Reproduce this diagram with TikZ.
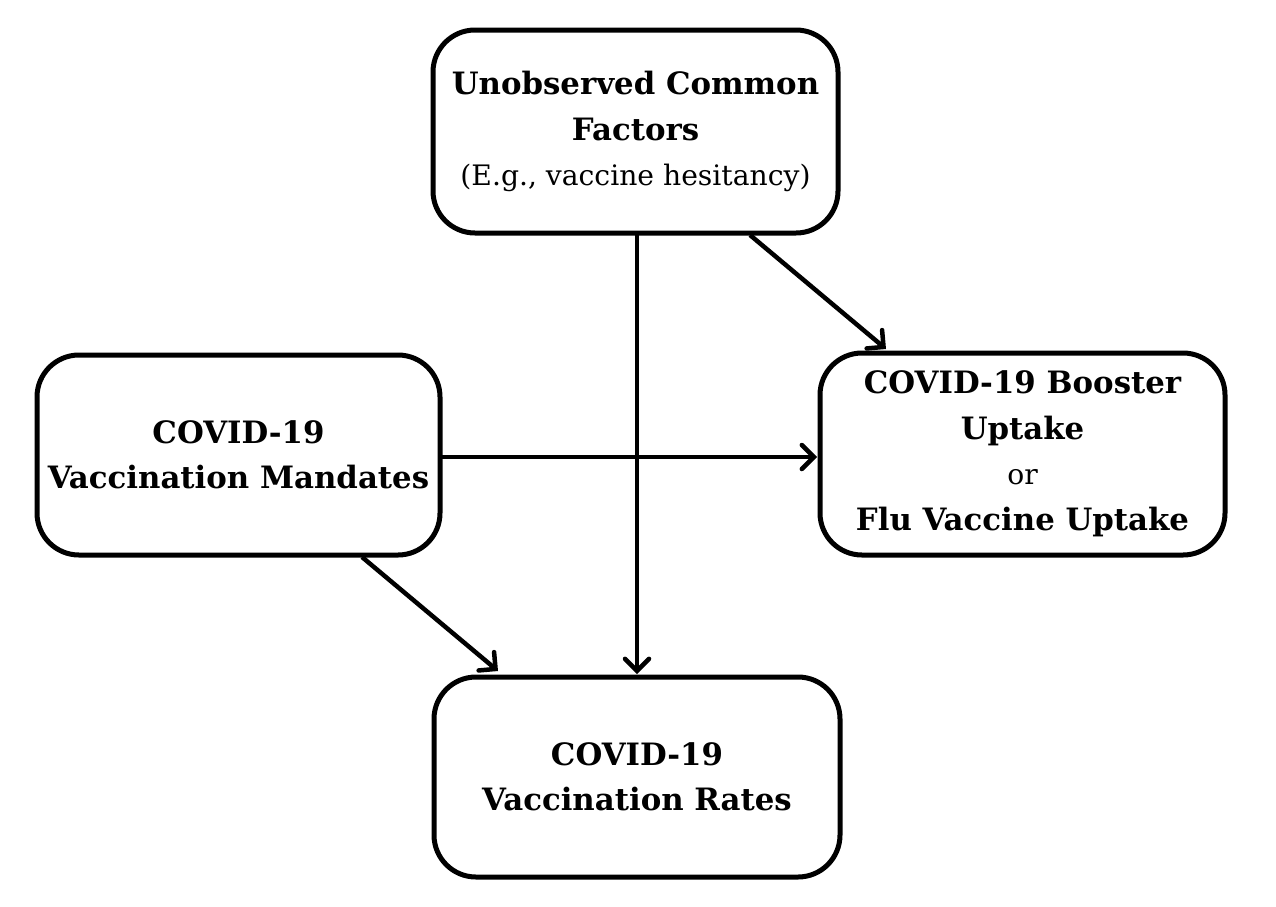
\documentclass[tikz,border=0pt]{standalone}
\usepackage{fontspec}
\setmainfont{DejaVu Serif}
\usetikzlibrary{arrows.meta}
\begin{document}
\begin{tikzpicture}[x=1pt,y=-1pt,
  box/.style={draw=black, line width=5pt, rounded corners=42pt, fill=white,
    minimum width=#1, align=center, inner sep=0pt,
    font=\fontsize{30.8}{45.5}\selectfont\bfseries},
  regtext/.style={font=\fontsize{28.2}{45.5}\selectfont\mdseries},
  conn/.style={line width=4.5pt, -{Straight Barb[length=12pt,width=24pt,line width=4.5pt,line cap=round]}}]
\useasboundingbox (0,0) rectangle (1276,906);
\node[box=405pt, minimum height=203pt] (U) at (635.5,131.5)
  {Unobserved Common\\Factors\\{\fontsize{28.2}{45.5}\selectfont\mdseries (E.g., vaccine hesitancy)}};
\node[box=403pt, minimum height=200pt] (M) at (238.5,455)
  {COVID-19\\Vaccination Mandates};
\node[box=405pt, minimum height=202pt] (B) at (1022.5,454)
  {COVID-19 Booster\\Uptake\\{\fontsize{28.2}{45.5}\selectfont\mdseries or}\\Flu Vaccine Uptake};
\node[box=406pt, minimum height=200pt] (R) at (637,777)
  {COVID-19\\Vaccination Rates};
\coordinate (u1) at (637,234);
\coordinate (r1) at (637,674);
\coordinate (u2) at (750,235);
\coordinate (b2) at (886,349);
\coordinate (m3) at (362,557);
\coordinate (r3) at (498,671);
\coordinate (m4) at (442,457);
\coordinate (b4) at (817,457);
\draw[conn] (u1) -- (r1);
\draw[conn] (u2) -- (b2);
\draw[conn] (m3) -- (r3);
\draw[conn] (m4) -- (b4);
\end{tikzpicture}
\end{document}
